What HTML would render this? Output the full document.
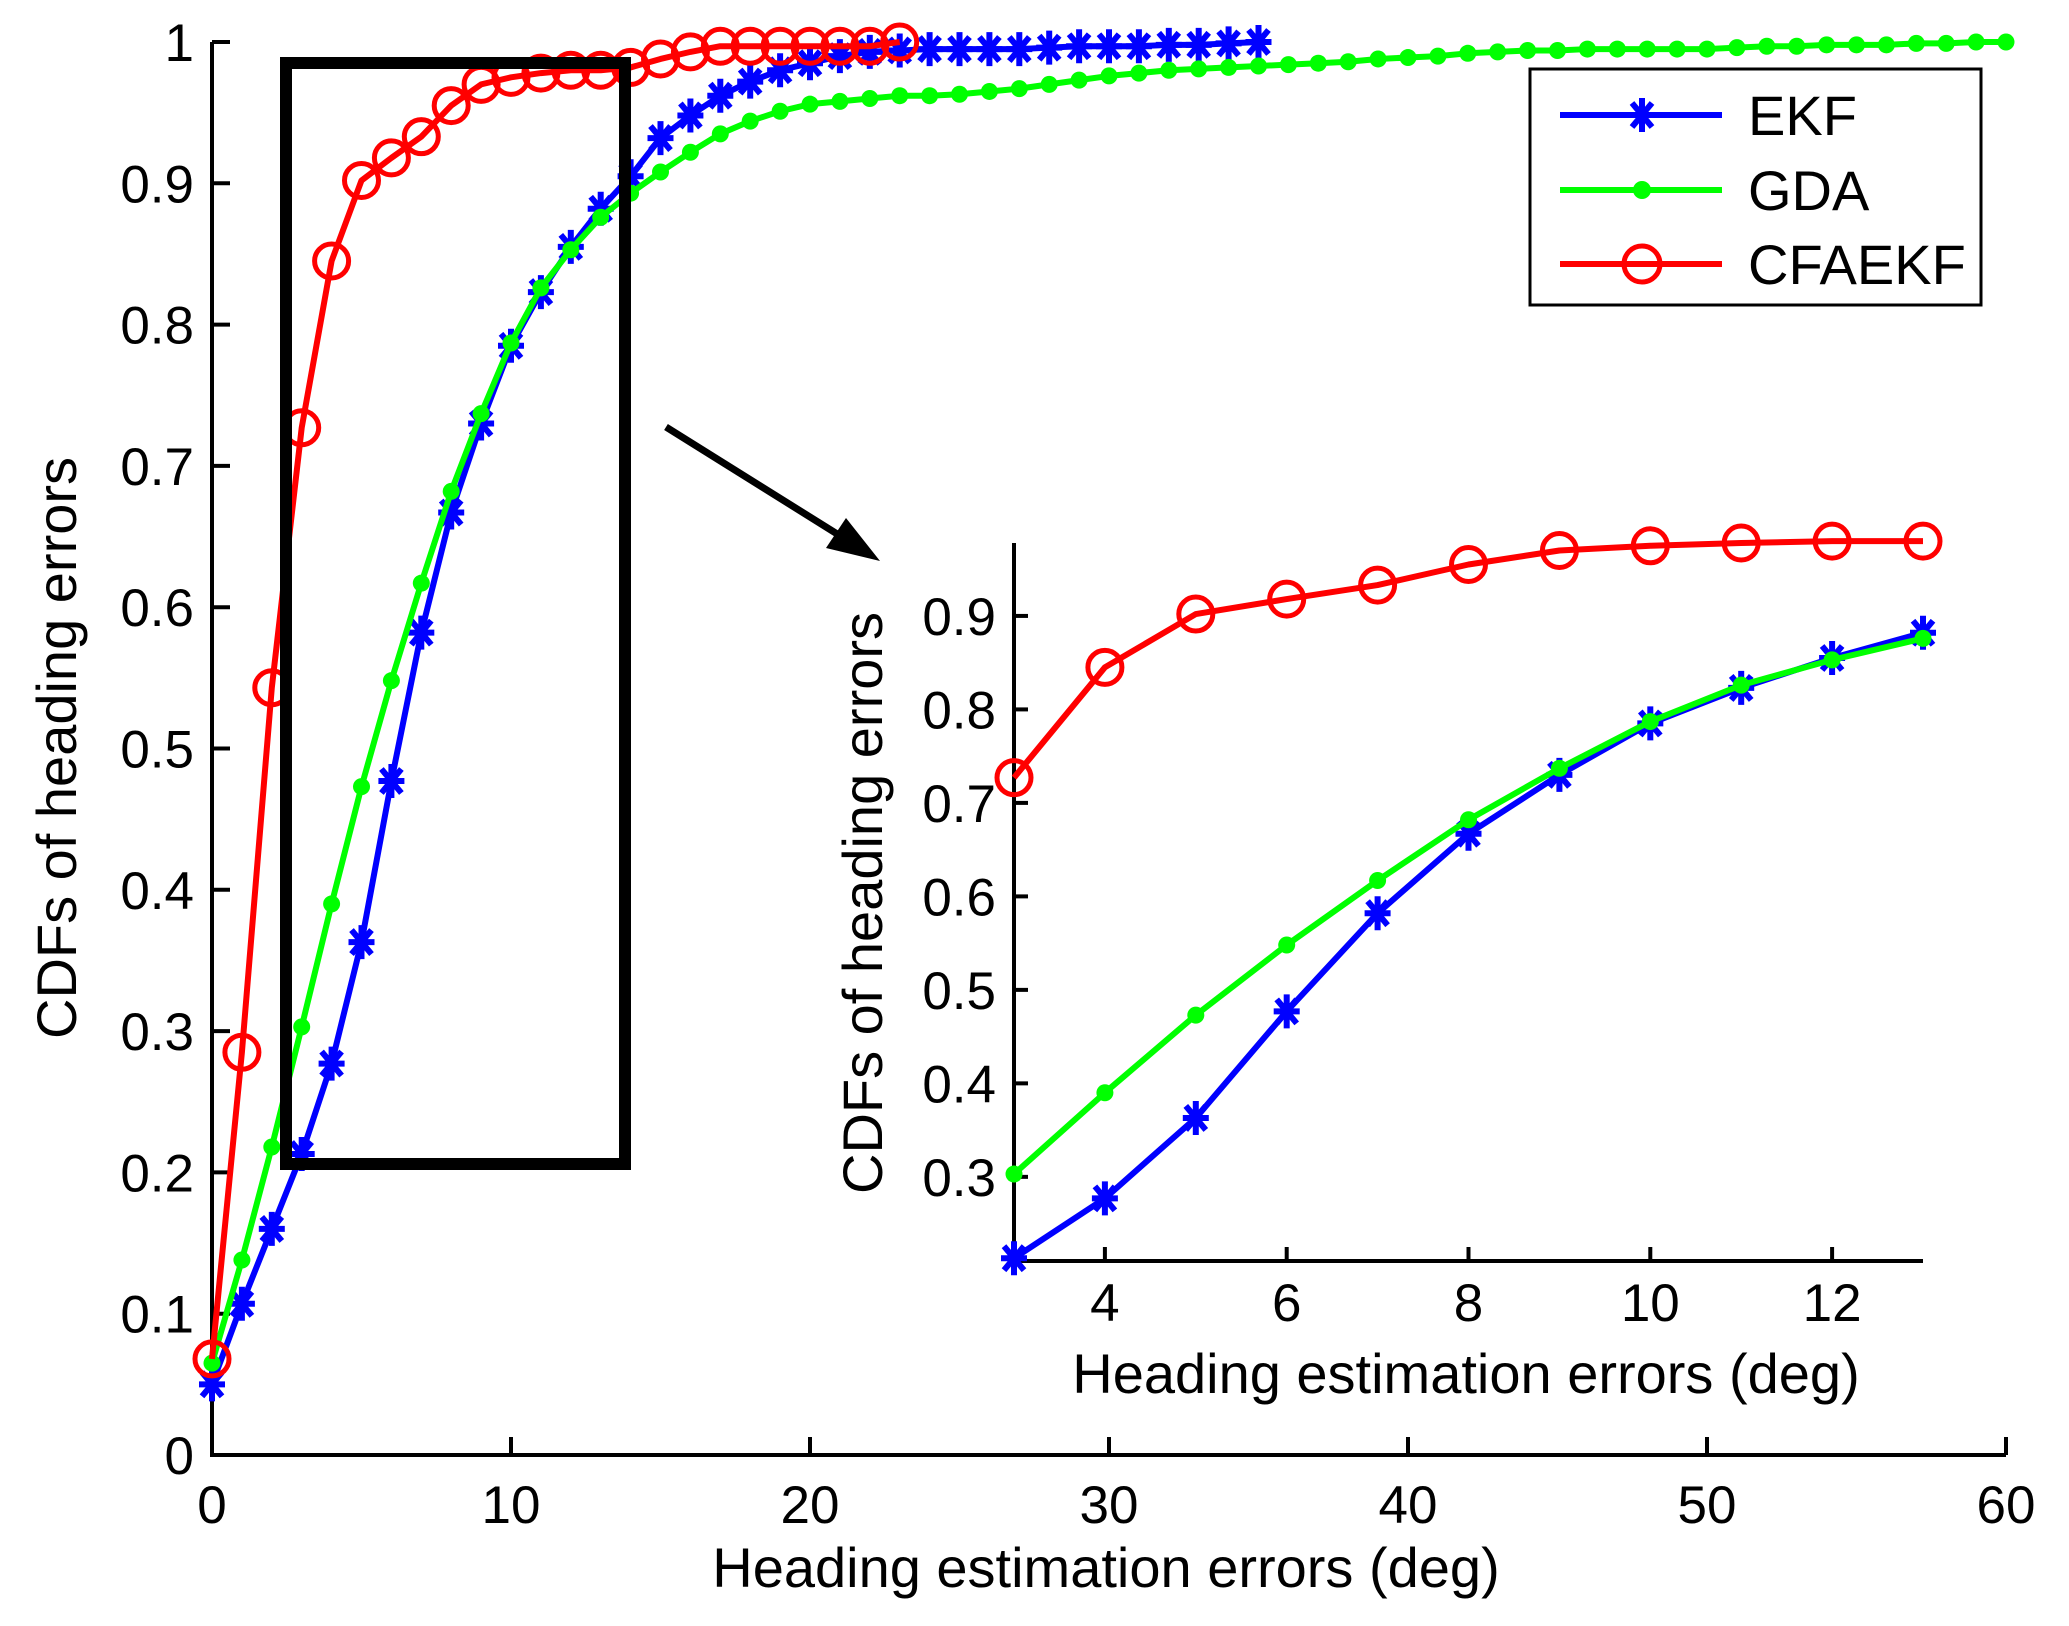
<!DOCTYPE html>
<html><head><meta charset="utf-8"><style>
html,body{margin:0;padding:0;background:#fff;}
svg{display:block;font-family:"Liberation Sans",Arial,sans-serif;}
</style></head><body>
<svg id="chart" width="2069" height="1626" viewBox="0 0 2069 1626" xmlns="http://www.w3.org/2000/svg">
<rect x="0" y="0" width="2069" height="1626" fill="#fff"/>
<g id="main"></g>
<g id="inset"></g>
<rect x="286" y="63" width="339" height="1101" fill="none" stroke="#000" stroke-width="12"/>
<g>
<line x1="666" y1="427" x2="850" y2="542" stroke="#000" stroke-width="7"/>
<polygon points="880,561 826,548 846,518" fill="#000"/>
</g>
<g>
<rect x="1530" y="69" width="451" height="236" fill="#fff" stroke="#000" stroke-width="3"/>
<g>
<line x1="1560" y1="115" x2="1722" y2="115" stroke="#0000ff" stroke-width="6"/>
<g stroke="#0000ff" stroke-width="6"><line x1="1642" y1="98" x2="1642" y2="132"/><line x1="1630" y1="115" x2="1654" y2="115"/><line x1="1632" y1="103" x2="1652" y2="127"/><line x1="1652" y1="103" x2="1632" y2="127"/></g>
<text x="1748" y="135" font-size="56">EKF</text></g>
<g>
<line x1="1560" y1="190" x2="1722" y2="190" stroke="#00ff00" stroke-width="6"/>
<circle cx="1642" cy="190" r="9" fill="#00ff00"/>
<text x="1748" y="210" font-size="56">GDA</text></g>
<g>
<line x1="1560" y1="264" x2="1722" y2="264" stroke="#ff0000" stroke-width="6"/>
<circle cx="1642" cy="264" r="18" fill="none" stroke="#ff0000" stroke-width="5"/>
<text x="1748" y="284" font-size="56">CFAEKF</text></g>
</g>
</svg>
<script>
const ekfValues=[0.05,0.107,0.16,0.213,0.277,0.363,0.477,0.582,0.667,0.73,0.785,0.823,0.855,0.882,0.905,0.932,0.948,0.962,0.972,0.98,0.985,0.99,0.993,0.994,0.995,0.995,0.995,0.995,0.996,0.997,0.997,0.997,0.998,0.998,0.999,1.0];
const gdaValues=[0.065,0.138,0.218,0.303,0.39,0.473,0.548,0.617,0.682,0.737,0.787,0.826,0.853,0.876,0.893,0.908,0.922,0.935,0.944,0.951,0.956,0.958,0.96,0.962,0.962,0.963,0.965,0.967,0.97,0.973,0.976,0.978,0.98,0.981,0.982,0.983,0.984,0.985,0.986,0.988,0.989,0.99,0.992,0.993,0.994,0.994,0.995,0.995,0.995,0.995,0.995,0.996,0.997,0.997,0.998,0.998,0.998,0.999,0.999,1.0,1.0];
const cfaValues=[0.068,0.285,0.543,0.727,0.845,0.902,0.918,0.933,0.955,0.97,0.975,0.978,0.98,0.98,0.982,0.988,0.993,0.997,0.997,0.997,0.997,0.997,0.997,1.0];
const mainXTicks=[0,10,20,30,40,50,60];
const mainYTicks=[0,0.1,0.2,0.3,0.4,0.5,0.6,0.7,0.8,0.9,1];
const mainYTickLabels=["0","0.1","0.2","0.3","0.4","0.5","0.6","0.7","0.8","0.9","1"];
const insetXTicks=[4,6,8,10,12];
const insetYTicks=[0.3,0.4,0.5,0.6,0.7,0.8,0.9];
const insetXRange=[3,13];
const insetYRange=[0.21,0.978];

const NS='http://www.w3.org/2000/svg';
function mk(tag,attrs,parent){const e=document.createElementNS(NS,tag);for(const k in attrs)e.setAttribute(k,attrs[k]);parent.appendChild(e);return e;}

function drawPlot(g,o){
  const sx=v=>o.x0+(v-o.xmin)/(o.xmax-o.xmin)*(o.x1-o.x0);
  const sy=v=>o.y0-(v-o.ymin)/(o.ymax-o.ymin)*(o.y0-o.y1);
  const series=[{v:ekfValues,c:'#0000ff',m:'star',n:'ekf'},{v:gdaValues,c:'#00ff00',m:'dot',n:'gda'},{v:cfaValues,c:'#ff0000',m:'circle',n:'cfaekf'}];
  const ax=mk('path',{d:`M${o.x0},${o.y1} L${o.x0},${o.y0} L${o.x1},${o.y0}`,fill:'none',stroke:'#000','stroke-width':4},g);
  
  
  o.xt.forEach(t=>{const x=sx(t);
    const l=mk('line',{x1:x,y1:o.y0,x2:x,y2:o.y0-o.tick,stroke:'#000','stroke-width':4},g);
    
    
    const tx=mk('text',{x:x,y:o.y0+o.xlo,'font-size':o.fs,'text-anchor':'middle'},g);
    tx.textContent=String(t);
    
    
  });
  o.yt.forEach((t,i)=>{const y=sy(t);
    const l=mk('line',{x1:o.x0,y1:y,x2:o.x0+o.tick,y2:y,stroke:'#000','stroke-width':4},g);
    
    
    const tx=mk('text',{x:o.x0-o.ylo,y:y+19,'font-size':o.fs,'text-anchor':'end'},g);
    tx.textContent=o.yl?o.yl[i]:String(t);
    
    
  });
  const xl=mk('text',{x:o.xlab[0],y:o.xlab[1],'font-size':o.lfs,'text-anchor':'middle'},g);
  xl.textContent='Heading estimation errors (deg)';
  
  
  const yl=mk('text',{x:0,y:0,'font-size':o.lfs,'text-anchor':'middle',transform:`translate(${o.ylab[0]},${o.ylab[1]}) rotate(-90)`},g);
  yl.textContent='CDFs of heading errors';
  
  
  series.forEach(s=>{
    const pts=[];
    s.v.forEach((v,i)=>{if(i>=o.xmin&&i<=o.xmax)pts.push([sx(i),sy(v)]);});
    const sg=mk('g',{},g);
    
    
    mk('polyline',{points:pts.map(p=>p.join(',')).join(' '),fill:'none',stroke:s.c,'stroke-width':6,'stroke-linejoin':'round'},sg);
    pts.forEach(p=>{
      let m;
      if(s.m==='dot'){m=mk('circle',{cx:p[0],cy:p[1],r:8.5,fill:s.c},sg);}
      else if(s.m==='circle'){m=mk('circle',{cx:p[0],cy:p[1],r:17,fill:'none',stroke:s.c,'stroke-width':5},sg);}
      else{m=mk('path',{d:`M${p[0]},${p[1]-17}V${p[1]+17}M${p[0]-13},${p[1]}H${p[0]+13}M${p[0]-10},${p[1]-12}L${p[0]+10},${p[1]+12}M${p[0]+10},${p[1]-12}L${p[0]-10},${p[1]+12}`,stroke:s.c,'stroke-width':6,fill:'none'},sg);}
      
      
    });
  });
}
drawPlot(document.getElementById('main'),{x0:212,x1:2006,y0:1455,y1:42,xmin:0,xmax:60,ymin:0,ymax:1,xt:mainXTicks,yt:mainYTicks,yl:mainYTickLabels,tick:18,fs:53,lfs:56,xlo:68,ylo:18,xlab:[1106,1587],ylab:[76,748]});
drawPlot(document.getElementById('inset'),{x0:1014,x1:1923,y0:1261,y1:543,xmin:insetXRange[0],xmax:insetXRange[1],ymin:insetYRange[0],ymax:insetYRange[1],xt:insetXTicks,yt:insetYTicks,tick:14,fs:53,lfs:56,xlo:60,ylo:18,xlab:[1466,1393],ylab:[882,903]});
</script>
</body></html>
